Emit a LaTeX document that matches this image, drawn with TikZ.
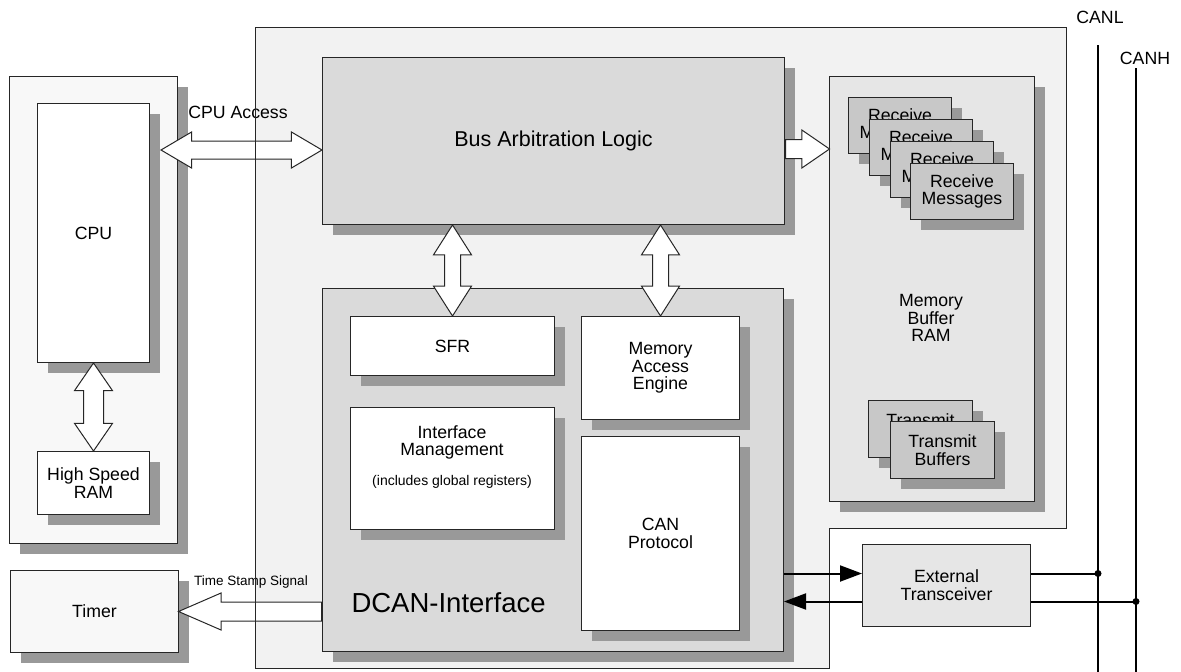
\documentclass[tikz,border=0pt]{standalone}
\usepackage{fontspec}
\setmainfont{Liberation Sans}
\usepackage{tikz}
\usetikzlibrary{calc,arrows.meta,shapes.arrows,shadows}
\definecolor{GrayShadow}{RGB}{153,153,153}
\definecolor{GrayOuter}{RGB}{242,242,242}
\definecolor{GrayPanel}{RGB}{248,248,248}
\definecolor{GrayLogic}{RGB}{218,218,218}
\definecolor{GrayBuffer}{RGB}{230,230,230}
\definecolor{GrayMsg}{RGB}{200,200,200}

\begin{document}
\begin{tikzpicture}[x=1pt,y=-1pt,>=Latex,
  font=\fontsize{17.7}{17.7}\selectfont,
  flat/.style={draw=black!85,line width=1pt,anchor=north west,inner sep=0pt,align=center},
  blk/.style={flat,drop shadow={shadow xshift=10pt,shadow yshift=-10pt,fill=GrayShadow,opacity=1}},
  fatdouble/.style={double arrow,draw=black!85,fill=white,line width=1pt,minimum width=0pt},
  fatsingle/.style={single arrow,draw=black!85,fill=white,line width=1pt,minimum width=0pt,anchor=tail},
  busline/.style={line width=2pt}]
  \useasboundingbox (0,0) rectangle (1181,672);

  % outer device outline
  \coordinate (o1) at (255,27);   \coordinate (o2) at (1066,27);
  \coordinate (o3) at (1066,528); \coordinate (o4) at (829,528);
  \coordinate (o5) at (829,668);  \coordinate (o6) at (255,668);
  \fill[GrayOuter] (o1) -- (o2) -- (o3) -- (o4) -- (o5) -- (o6) -- cycle;

  % CPU side
  \node[blk,fill=GrayPanel,minimum width=168pt,minimum height=467pt] (board) at (9,76) {};
  \node[blk,fill=white,minimum width=112pt,minimum height=259pt] (cpu) at (37,103) {CPU};
  \node[blk,fill=white,minimum width=112pt,minimum height=63pt] (hsr) at (37,451) {High Speed\\RAM};
  \node[blk,fill=GrayPanel,minimum width=168pt,minimum height=82pt] (timer) at (10,570) {Timer};

  % DCAN blocks
  \node[blk,fill=GrayLogic,minimum width=462pt,minimum height=167pt,
    font=\fontsize{21.5}{21.5}\selectfont] (bus) at (322,57) {Bus Arbitration Logic};
  \node[blk,fill=GrayLogic,minimum width=461pt,minimum height=363pt] (dcan) at (322,288) {};
  \node[anchor=west,font=\fontsize{27.5}{27.5}\selectfont] (dcanlbl) at (348,603) {DCAN-Interface};
  \node[blk,fill=white,minimum width=204pt,minimum height=59pt] (sfr) at (350,316) {SFR};
  \node[blk,fill=white,minimum width=204pt,minimum height=122pt] (im) at (350,407) {};
  \node[anchor=north,inner sep=0pt,align=center] (imlbl) at (452,425)
    {Interface\\Management\\[12pt]{\fontsize{14}{14}\selectfont(includes global registers)}};
  \node[blk,fill=white,minimum width=158pt,minimum height=103pt] (mae) at (581,316) {Memory\\Access\\Engine};
  \node[blk,fill=white,minimum width=158pt,minimum height=194pt] (canp) at (581,436) {CAN\\Protocol};

  % message buffer RAM
  \node[blk,fill=GrayBuffer,minimum width=205pt,minimum height=425pt] (mem) at (829,76) {};
  \node[align=center] (memlbl) at (931,318) {Memory\\Buffer\\RAM};
  \foreach \i/\x/\y in {1/848/97,2/869/119,3/890/141,4/910/163}
    \node[blk,fill=GrayMsg,minimum width=103pt,minimum height=56pt] (rx\i) at (\x,\y) {Receive\\Messages};
  \node[blk,fill=GrayMsg,minimum width=104pt,minimum height=57pt] (tx1) at (868,400) {Transmit\\Buffers};
  \node[blk,fill=GrayMsg,minimum width=104pt,minimum height=57pt] (tx2) at (890,421) {Transmit\\Buffers};

  \node[flat,fill=GrayBuffer,minimum width=168pt,minimum height=82pt] (trans) at (862,544) {External\\Transceiver};

  % wide arrows
  \path let \p1=([xshift=11pt]cpu.east), \p2=([yshift=-9pt]bus.west) in
    node[fatdouble,inner sep=8.5pt,double arrow head extend=9pt,double arrow tip angle=61,
      minimum height={\x2-\x1}] (cpuacc) at ({(\x1+\x2)/2},\y2) {};
  \node (cpuacclbl) at (238,112) {CPU Access};
  \path let \p1=(cpu.south), \p2=(hsr.north) in
    node[fatdouble,rotate=90,inner sep=9.5pt,double arrow head extend=9pt,double arrow tip angle=69,
      minimum height={\y1-\y2}] (cpuram) at (\x1,{(\y1+\y2)/2}) {};
  \path let \p1=(sfr.north |- bus.south), \p2=(sfr.north) in
    node[fatdouble,rotate=90,inner sep=7.5pt,double arrow head extend=11pt,double arrow tip angle=65,
      minimum height={\y1-\y2}] (bussfr) at (\x1,{(\y1+\y2)/2}) {};
  \path let \p1=(mae.north |- bus.south), \p2=(mae.north) in
    node[fatdouble,rotate=90,inner sep=7.5pt,double arrow head extend=11pt,double arrow tip angle=65,
      minimum height={\y1-\y2}] (busmae) at (\x1,{(\y1+\y2)/2}) {};
  \path let \p1=([yshift=-8pt]bus.east), \p2=(mem.west) in
    node[fatsingle,inner sep=9pt,single arrow head extend=9.5pt,single arrow tip angle=69,
      minimum height={\x2-\x1}] (busmem) at (\p1) {};
  \path let \p1=(timer.east), \p2=(dcan.west |- timer.east) in
    node[fatsingle,rotate=180,inner sep=9pt,single arrow head extend=9pt,single arrow tip angle=47,
      minimum height={\x2-\x1}] (stamp) at (\p2) {};
  \node[font=\fontsize{13.5}{13.5}\selectfont] (stamplbl) at (251,582) {Time Stamp Signal};

  % outer outline on top
  \draw[draw=black!85,line width=1pt] (o1) -- (o2) -- (o3) -- (o4) -- (o5) -- (o6) -- cycle;

  % CAN bus
  \coordinate (canltop) at (1098,45);  \coordinate (canlbot) at (1098,672);
  \coordinate (canhtop) at (1136,68);  \coordinate (canhbot) at (1136,672);
  \draw[busline] (canltop) -- (canlbot);
  \draw[busline] (canhtop) -- (canhbot);
  \node (canllbl) at (1100,17) {CANL};
  \node (canhlbl) at (1145,58) {CANH};
  \coordinate (t1) at ([yshift=12pt]trans.west);
  \coordinate (t2) at ([yshift=-16pt]trans.west);
  \draw[busline,-{Triangle[length=22pt,width=16pt]}] (dcan.east |- t1) -- (t1);
  \draw[busline,-{Triangle[length=22pt,width=16pt]}] (t2) -- (dcan.east |- t2);
  \draw[busline] (trans.east |- t1) -- (canlbot |- t1);
  \draw[busline] (trans.east |- t2) -- (canhbot |- t2);
  \fill (canlbot |- t1) circle (3.5pt);
  \fill (canhbot |- t2) circle (3.5pt);
\end{tikzpicture}
\end{document}
